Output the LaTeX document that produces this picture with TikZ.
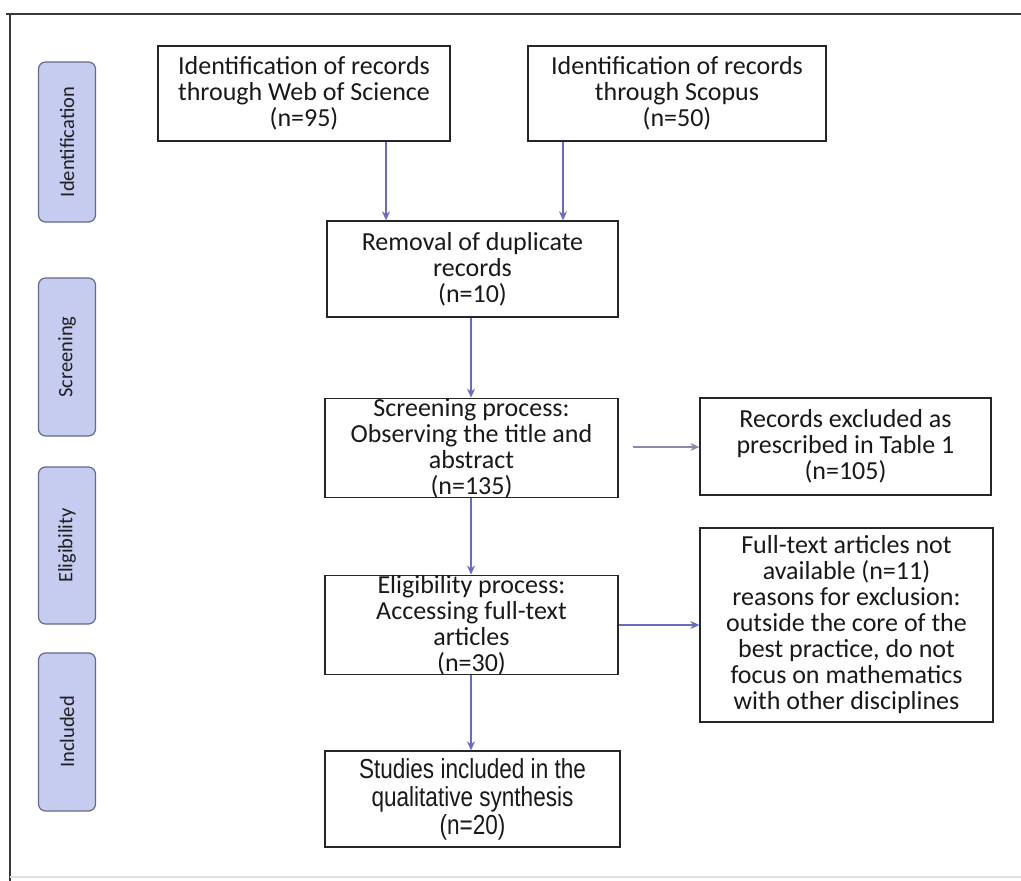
\documentclass[tikz,border=0pt]{standalone}
\usepackage{fontspec}
\setmainfont{Carlito}
\newfontfamily\narrowfont[FakeStretch=0.82]{Liberation Sans}
\usetikzlibrary{arrows.meta,calc}
\definecolor{stagefill}{HTML}{C6CBF0}
\definecolor{stageborder}{HTML}{646A8C}
\definecolor{arrowblue}{HTML}{6B6BBF}
\definecolor{arrowgray}{HTML}{8A8AA8}
\definecolor{frame}{HTML}{3A3A3A}
\begin{document}
\begin{tikzpicture}[x=1pt,y=-1pt,
  box/.style={draw=black!85,line width=1.3pt,align=center,text=black!90,
    font=\fontsize{26}{26}\selectfont,inner sep=0pt},
  stage/.style={draw=stageborder,fill=stagefill,rounded corners=7pt,line width=1.2pt,
    rotate=90,font=\fontsize{20.5}{22}\selectfont,inner sep=0pt,text=black!88,
    minimum height=57pt},
  arr/.style={draw=arrowblue,line width=1.2pt,-{Stealth[length=9pt,width=8pt]}},
  arrg/.style={arr,draw=arrowgray}]
\useasboundingbox (0,0) rectangle (1021,881);
\fill[white] (0,0) rectangle (1021,881);
% frame
\draw[frame,line width=2.6pt] (6,14) -- (1021,14);
\draw[frame,line width=2.4pt] (10,14) -- (10,881);
\draw[black!12,line width=1.5pt] (10,877) -- (1021,877);
% stage labels
\node[stage,minimum width=160pt] (sid) at (67,142) {Identification};
\node[stage,minimum width=158pt] (ssc) at (67,357) {Screening};
\node[stage,minimum width=157pt] (sel) at (67,545.5) {Eligibility};
\node[stage,minimum width=158pt] (sin) at (67,732) {Included};
% boxes
\node[box,minimum width=292pt,minimum height=95pt] (wos) at (304,93.5)
  {Identification of records\\through Web of Science\\(n=95)};
\node[box,minimum width=298pt,minimum height=95pt] (sco) at (677,93.5)
  {Identification of records\\through Scopus\\(n=50)};
\node[box,minimum width=291pt,minimum height=96pt] (rem) at (472.5,269)
  {Removal of duplicate\\records\\(n=10)};
\node[box,minimum width=293pt,minimum height=96pt] (scr) at (471.5,448)
  {Screening process:\\Observing the title and\\abstract\\(n=135)};
\node[box,minimum width=291pt,minimum height=97pt] (exc) at (845.5,446.5)
  {Records excluded as\\prescribed in Table 1\\(n=105)};
\node[box,minimum width=293pt,minimum height=96pt] (eli) at (471.5,625)
  {Eligibility process:\\Accessing full-text\\articles\\(n=30)};
\node[box,minimum width=293pt,minimum height=194pt] (ful) at (846.5,625)
  {Full-text articles not\\available (n=11)\\reasons for exclusion:\\outside the core of the\\best practice, do not\\focus on mathematics\\with other disciplines};
\node[box,minimum width=295pt,minimum height=96pt,font=\narrowfont\fontsize{27.5}{28}\selectfont] (stu) at (472.5,799)
  {Studies included in the\\qualitative synthesis\\(n=20)};
% connectors
\coordinate (a1) at ([xshift=82pt]wos.south);
\coordinate (a2) at ([xshift=-114pt]sco.south);
\draw[arr] (a1) -- (a1 |- rem.north);
\draw[arr] (a2) -- (a2 |- rem.north);
\coordinate (c0) at ([xshift=-1.5pt]rem.south);
\draw[arr] (c0) -- (c0 |- scr.north);
\draw[arr] (c0 |- scr.south) -- (c0 |- eli.north);
\draw[arr] (c0 |- eli.south) -- (c0 |- stu.north);
\coordinate (b1) at ([yshift=1pt]scr.east);
\draw[arrg,shorten <=14pt] (b1) -- (b1 -| exc.west);
\draw[arr] (eli.east) -- (eli.east -| ful.west);
\end{tikzpicture}
\end{document}
